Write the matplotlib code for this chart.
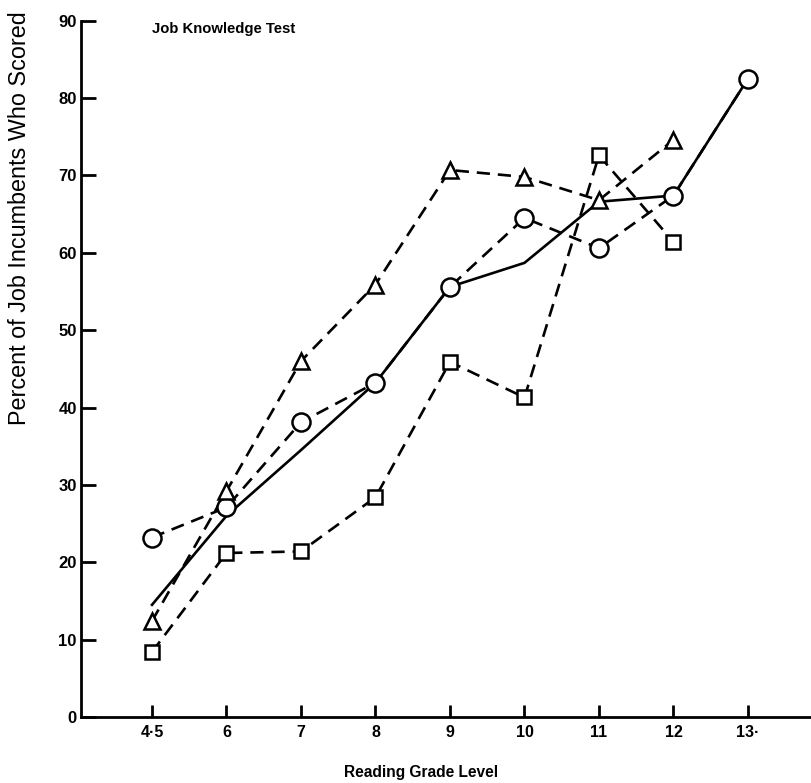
import matplotlib
matplotlib.use("Agg")
import matplotlib.pyplot as plt

categories = ["4-5", "6", "7", "8", "9", "10", "11", "12", "13+"]
tick_labels = ["4·5", "6", "7", "8", "9", "10", "11", "12", "13·"]
overall = [14.5, 26.0, 34.5, 43.2, 55.6, 58.7, 66.6, 67.4, 82.5]
circles = [23.2, 27.1, 38.1, 43.2, 55.6, 64.5, 60.6, 67.4, 82.5]
triangles = [12.4, 29.2, 46.0, 55.9, 70.7, 69.8, 66.8, 74.6]
squares = [8.4, 21.2, 21.4, 28.4, 45.9, 41.3, 72.6, 61.4]
y_ticks = [0, 10, 20, 30, 40, 50, 60, 70, 80, 90]

plt.rcParams['font.family'] = ['Liberation Sans', 'DejaVu Sans']

fig = plt.figure(figsize=(8.11, 7.83), dpi=100)
ax = fig.add_axes([81/811, (783-717)/783, 1 - 81/811, (717-20.7)/783])

x_all = list(range(len(categories)))
lw = 1.9
dash = (0, (5, 3))
ax.plot(x_all, overall, color='black', lw=lw, zorder=2)
ax.plot(x_all, circles, color='black', lw=lw, ls=dash, zorder=2)
ax.plot(x_all[:len(triangles)], triangles, color='black', lw=lw, ls=dash, zorder=2)
ax.plot(x_all[:len(squares)], squares, color='black', lw=lw, ls=dash, zorder=2)

mk = dict(ls='none', mfc='white', mec='black', mew=1.8, zorder=3)
ax.plot(x_all, circles, marker='o', ms=13, **mk)
ax.plot(x_all[:len(triangles)], triangles, marker='^', ms=11, **mk)
ax.plot(x_all[:len(squares)], squares, marker='s', ms=10, **mk)

ax.set_xlim(-0.953, 8.846)
ax.set_ylim(0, 90)
ax.set_xticks(x_all)
ax.set_xticklabels(tick_labels, fontsize=11.5, fontweight='bold')
ax.set_yticks(y_ticks)
ax.set_yticklabels([str(v) for v in y_ticks], fontsize=12, fontweight='bold')
ax.tick_params(axis='y', direction='in', length=11, width=2, pad=3)
ax.tick_params(axis='x', direction='in', length=9, width=2, pad=6)
for s in ['top', 'right']:
    ax.spines[s].set_visible(False)
for s in ['left', 'bottom']:
    ax.spines[s].set_linewidth(2)

ax.text(0, 88.9, "Job Knowledge Test", fontsize=10.7, fontweight='bold',
        ha='left', va='center')

fig.text(421/811, 1 - 772/783, "Reading Grade Level", fontsize=11.2,
         fontweight='bold', ha='center', va='center')
fig.text(20/811, 1 - 425/783, "Percent of Job Incumbents Who Scored",
         fontsize=16.8, rotation=90, ha='center', va='bottom')

fig.savefig("out.png", dpi=100)
